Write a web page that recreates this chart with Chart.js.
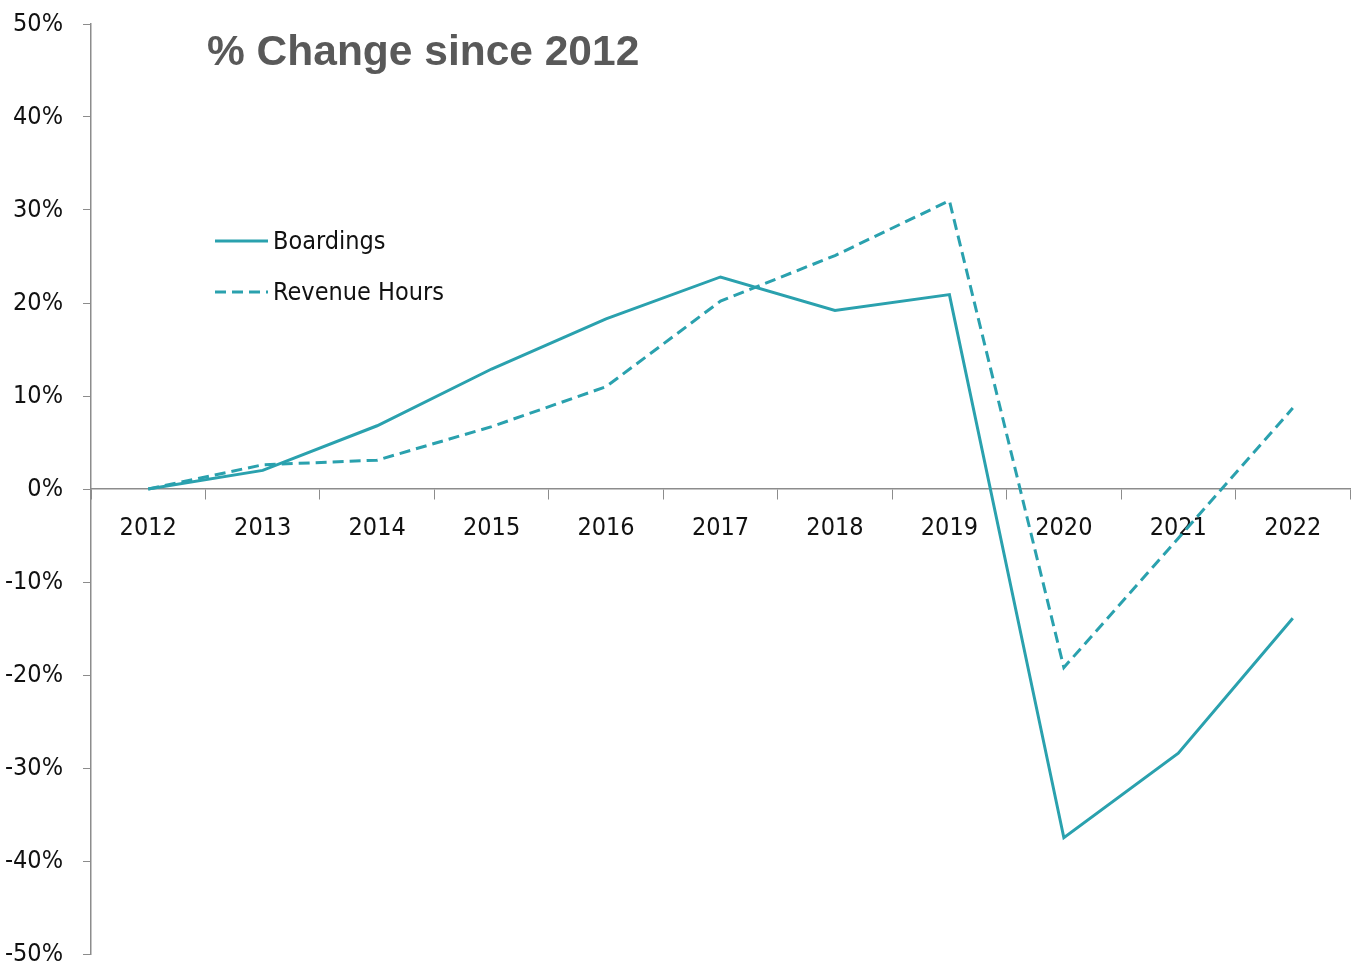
<!DOCTYPE html>
<html>
<head>
<meta charset="utf-8">
<title>% Change since 2012</title>
<script src="https://cdn.jsdelivr.net/npm/chart.js"></script>
<style>
  html, body { margin: 0; padding: 0; background: #ffffff; }
  #wrap { position: relative; width: 1354px; height: 964px; }
</style>
</head>
<body>
<div id="wrap"><canvas id="changeChart"></canvas></div>
<script>
// Data
const years = ['2012', '2013', '2014', '2015', '2016', '2017', '2018', '2019', '2020', '2021', '2022'];
const boardings = [0, 2.0, 6.8, 12.9, 18.3, 22.8, 19.2, 20.9, -37.5, -28.4, -13.9];
const revenueHours = [0, 2.6, 3.1, 6.7, 11.0, 20.2, 25.1, 31.0, -19.2, -5.3, 8.7];
const seriesNames = ['Boardings', 'Revenue Hours'];
const yMin = -50, yMax = 50, yStep = 10;
const titleText = '% Change since 2012';

const teal = '#2aa1ae';
const axisGray = '#8c8c8c';
const labelFont = "'Liberation Sans Narrow', 'DejaVu Sans Condensed', 'Roboto', sans-serif";

// Title + legend drawn inside the plot area
const overlayPlugin = {
    id: 'overlay',
    afterDraw(chart) {
        const ctx = chart.ctx;
        ctx.save();
        ctx.fillStyle = '#595959';
        ctx.font = "bold 42.5px 'Liberation Sans', Arial, sans-serif";
        ctx.textBaseline = 'middle';
        ctx.textAlign = 'left';
        ctx.fillText(titleText, 207, 53);

        const rows = [241, 292];
        chart.data.datasets.forEach((ds, i) => {
            const y = rows[i];
            ctx.strokeStyle = ds.borderColor;
            ctx.lineWidth = ds.borderWidth;
            ctx.setLineDash(ds.borderDash || []);
            ctx.beginPath();
            ctx.moveTo(215, y);
            ctx.lineTo(268, y);
            ctx.stroke();
            ctx.setLineDash([]);
            ctx.fillStyle = '#111111';
            ctx.font = '25px ' + labelFont;
            ctx.fillText(ds.label, 273, y + 1);
        });
        ctx.restore();
    }
};

new Chart(document.getElementById('changeChart'), {
    type: 'line',
    data: {
        labels: years,
        datasets: [
            {
                label: seriesNames[0],
                data: boardings,
                borderColor: teal,
                borderWidth: 3,
                pointRadius: 0,
                tension: 0,
                fill: false
            },
            {
                label: seriesNames[1],
                data: revenueHours,
                borderColor: teal,
                borderWidth: 3,
                borderDash: [11, 6],
                pointRadius: 0,
                tension: 0,
                fill: false
            }
        ]
    },
    options: {
        responsive: true,
        maintainAspectRatio: false,
        animation: false,
        layout: {
            padding: { top: 24, bottom: 10, right: 4, left: 0 }
        },
        plugins: {
            legend: { display: false },
            tooltip: { enabled: false }
        },
        scales: {
            x: {
                type: 'category',
                position: { y: 0 },
                offset: true,
                grid: {
                    offset: true,
                    drawOnChartArea: false,
                    color: axisGray,
                    tickLength: 10
                },
                border: { color: axisGray, width: 1.5 },
                ticks: {
                    color: '#111111',
                    padding: 14,
                    maxRotation: 0,
                    font: { family: labelFont, size: 25 }
                }
            },
            y: {
                min: yMin,
                max: yMax,
                grid: {
                    drawOnChartArea: false,
                    color: axisGray,
                    tickLength: 8
                },
                border: { color: axisGray, width: 1.5 },
                ticks: {
                    stepSize: yStep,
                    color: '#111111',
                    padding: 20,
                    font: { family: labelFont, size: 25 },
                    callback: (v) => v + '%'
                },
                afterFit(scale) {
                    scale.width = 91;
                    scale.paddingTop = 0;
                    scale.paddingBottom = 0;
                }
            }
        }
    },
    plugins: [overlayPlugin]
});
</script>
</body>
</html>
